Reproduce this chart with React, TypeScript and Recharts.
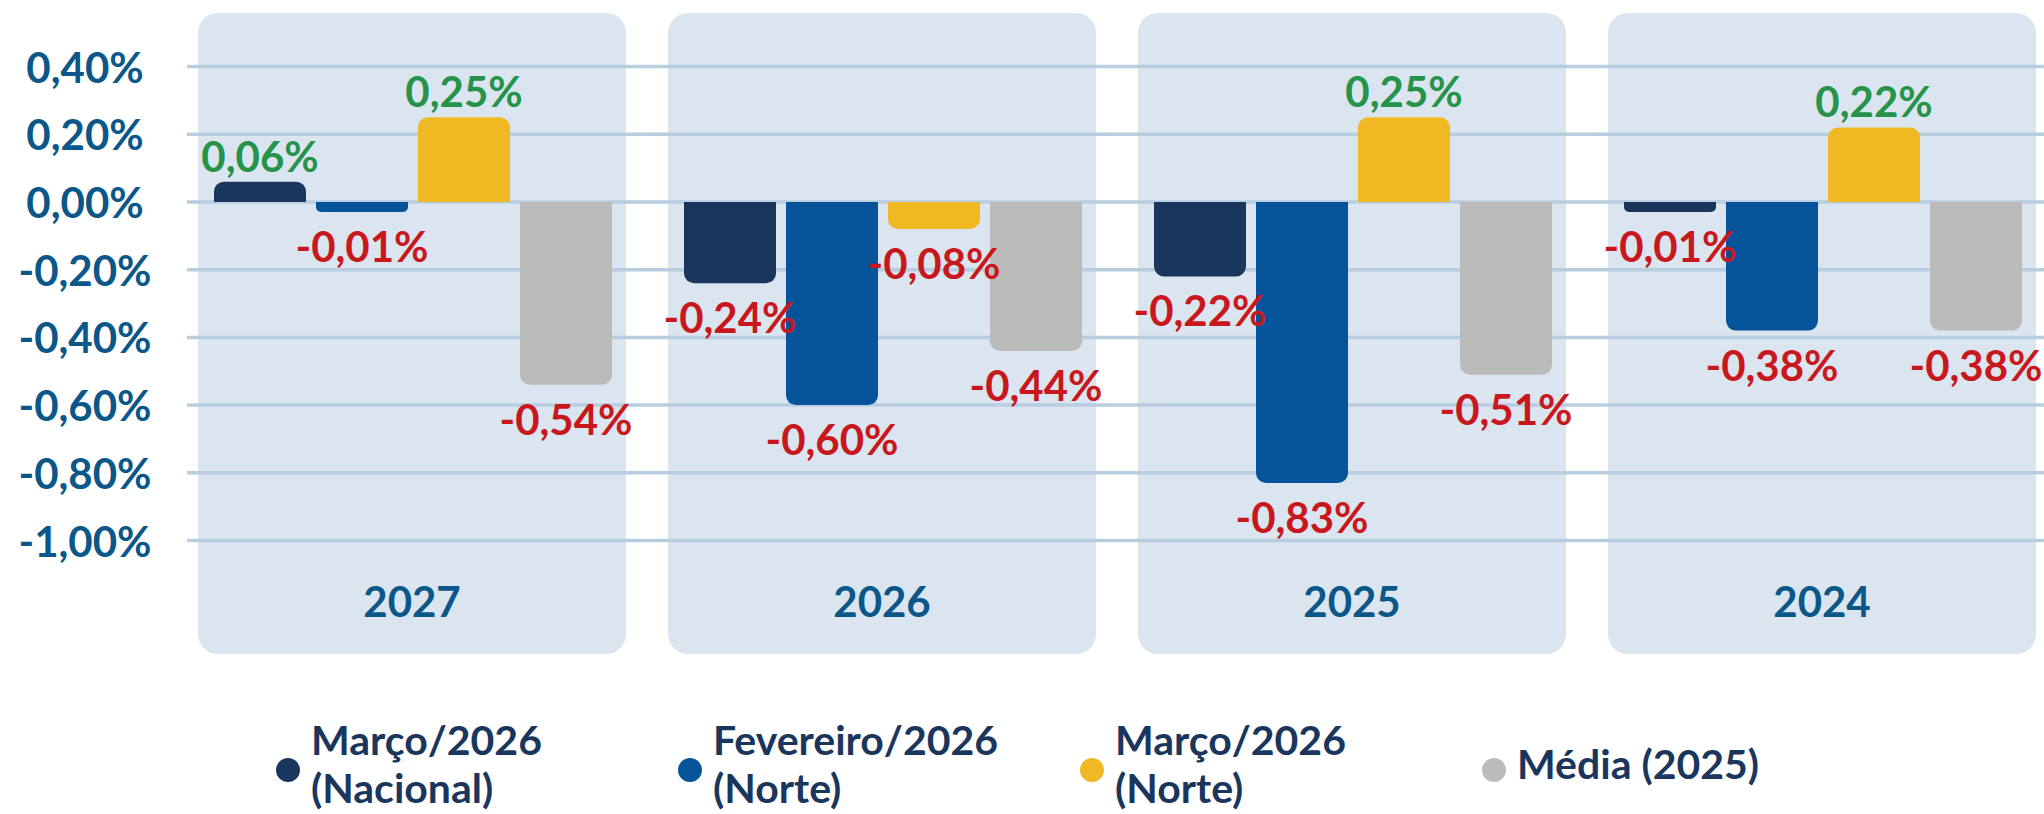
import React from 'react';
import { BarChart, Bar, XAxis, YAxis, CartesianGrid, Legend, LabelList } from 'recharts';

// ---------- data ----------
const categories = ['2027', '2026', '2025', '2024'];
const marcoNacional = [0.06, -0.24, -0.22, -0.01];
const fevereiroNorte = [-0.01, -0.6, -0.83, -0.38];
const marcoNorte = [0.25, -0.08, 0.25, 0.22];
const media2025 = [-0.54, -0.44, -0.51, -0.38];
const yTicks = [0.4, 0.2, 0, -0.2, -0.4, -0.6, -0.8, -1.0];

const seriesNames = ['Março/2026 (Nacional)', 'Fevereiro/2026 (Norte)', 'Março/2026 (Norte)', 'Média (2025)'];
const legendLines = [['Março/2026', '(Nacional)'], ['Fevereiro/2026', '(Norte)'], ['Março/2026', '(Norte)'], ['Média (2025)']];

// ---------- style ----------
const Y_MIN = -1.335;
const Y_MAX = 0.558;
const W = 2060;
const H = 814;
const FONT = 'Lato, "Open Sans", sans-serif';
const WEIGHT = 700;
const PANEL = '#dae5ef';
const GRID = '#b8cde0';
const AXIS_BLUE = '#0b578a';
const LEGEND_TEXT = '#1b365d';
const GREEN = '#25934a';
const RED = '#c8181e';
const COLORS = ['#1a365d', '#055399', '#f0b823', '#bbbbba'];
const KEYS = ['nac', 'fev', 'mar', 'med'];

const data = categories.map((cat, i) => ({
  cat,
  nac: marcoNacional[i],
  fev: fevereiroNorte[i],
  mar: marcoNorte[i],
  med: media2025[i],
  panel: [Y_MIN, Y_MAX],
}));

const fmt = (v: number) => {
  const s = Math.abs(v) < 1e-9 ? '0.00' : v.toFixed(2);
  return s.replace('.', ',') + '%';
};

const ValueLabel = (props: any) => {
  const { x, y, width, height, value } = props;
  const v = Number(value);
  const nx = Number(x), ny = Number(y), nw = Number(width), nh = Number(height);
  const top = Math.min(ny, ny + nh);
  const bottom = Math.max(ny, ny + nh);
  const cx = nx + nw / 2;
  if (v >= 0) {
    return (
      <text x={cx} y={top - 10} textAnchor="middle" fill={GREEN} fontFamily={FONT} fontWeight={WEIGHT} fontSize={42}>
        {fmt(v)}
      </text>
    );
  }
  return (
    <text x={cx} y={bottom + 50} textAnchor="middle" fill={RED} fontFamily={FONT} fontWeight={WEIGHT} fontSize={42}>
      {fmt(v)}
    </text>
  );
};

const YTick = (props: any) => {
  const { x, y, payload } = props;
  return (
    <text x={Number(x) - 92} y={Number(y) + 16} textAnchor="middle" fill={AXIS_BLUE} fontFamily={FONT} fontWeight={WEIGHT} fontSize={42}>
      {fmt(Number(payload.value))}
    </text>
  );
};

const CatTick = (props: any) => {
  const { x, y, payload } = props;
  return (
    <text x={Number(x)} y={Number(y) - 37} textAnchor="middle" fill={AXIS_BLUE} fontFamily={FONT} fontWeight={WEIGHT} fontSize={42}>
      {payload.value}
    </text>
  );
};

const LegendContent = () => (
  <div style={{ position: 'relative', width: 2044, height: 130, fontFamily: FONT }}>
    {legendLines.map((lines, i) => (
      <div
        key={i}
        style={{
          position: 'absolute',
          left: 276 + i * 402,
          top: 32,
          height: 96,
          display: 'flex',
          alignItems: 'center',
        }}
      >
        <div style={{ width: 24, height: 24, borderRadius: 12, background: COLORS[i], marginRight: 11, marginTop: 12, flex: 'none' }} />
        <div style={{ color: LEGEND_TEXT, fontSize: 41, fontWeight: WEIGHT, lineHeight: '48px', whiteSpace: 'nowrap' }}>
          {lines.map((l, j) => (
            <div key={j}>{l}</div>
          ))}
        </div>
      </div>
    ))}
  </div>
);

export default function App() {
  return (
    <div style={{ position: 'absolute', left: 0, top: 0, width: 2044, height: 814, overflow: 'hidden', background: '#fff' }}>
      <div style={{ position: 'absolute', left: 0, top: 0 }}>
        <BarChart width={W} height={H} data={data} margin={{ top: 13, right: 3, bottom: 160, left: 177 }} barCategoryGap={21}>
          <XAxis dataKey="cat" hide />
          <YAxis hide type="number" domain={[Y_MIN, Y_MAX]} allowDataOverflow />
          <Bar dataKey="panel" fill={PANEL} radius={20} isAnimationActive={false} />
        </BarChart>
      </div>
      <div style={{ position: 'absolute', left: 0, top: 0 }}>
        <BarChart width={W} height={H} data={data} margin={{ top: 13, right: 3, bottom: 0, left: 0 }} barCategoryGap={37} barGap={10}>
          <CartesianGrid vertical={false} stroke={GRID} strokeWidth={3.5} x={187} width={1870} syncWithTicks />
          <XAxis
            dataKey="cat"
            height={30}
            axisLine={false}
            tickLine={false}
            tickSize={0}
            tickMargin={0}
            interval={0}
            tick={CatTick}
          />
          <YAxis
            type="number"
            domain={[Y_MIN, Y_MAX]}
            ticks={yTicks}
            width={177}
            axisLine={false}
            tickLine={false}
            tickSize={0}
            tickMargin={0}
            interval={0}
            allowDataOverflow
            tick={YTick}
          />
          <Legend verticalAlign="bottom" content={LegendContent} wrapperStyle={{ left: 0, width: 2044, height: 130 }} />
          {KEYS.map((k, i) => (
            <Bar
              key={k}
              dataKey={k}
              name={seriesNames[i]}
              fill={COLORS[i]}
              radius={[10, 10, 0, 0]}
              minPointSize={10}
              isAnimationActive={false}
            >
              <LabelList dataKey={k} content={ValueLabel} />
            </Bar>
          ))}
        </BarChart>
      </div>
    </div>
  );
}
